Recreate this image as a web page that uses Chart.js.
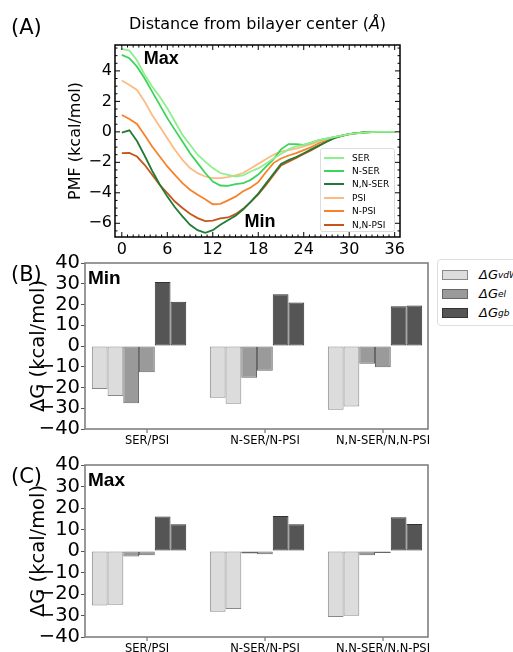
<!DOCTYPE html>
<html><head><meta charset="utf-8">
<script src="https://cdn.jsdelivr.net/npm/chart.js@4.4.1/dist/chart.umd.min.js"></script>
<style>
html,body{margin:0;padding:0;background:#fff;}
body{width:513px;height:652px;position:relative;overflow:hidden;font-family:"DejaVu Sans",sans-serif;color:#000;}
canvas{position:absolute;left:0;}
.plab{position:absolute;font-family:"DejaVu Sans",sans-serif;font-size:21px;line-height:1;}
#titleA{position:absolute;left:115px;width:285px;top:16px;text-align:center;font-size:16px;line-height:1;}
#legA{position:absolute;left:320px;top:148px;width:75px;height:84px;box-sizing:border-box;border:1px solid #ddd;border-radius:3px;background:rgba(255,255,255,0.85);padding-top:2px;}
#legA .row{height:13.4px;display:flex;align-items:center;font-size:9px;}
#legA .sw{width:20px;height:0;border-top:2px solid;margin:0 8px 0 3px;}
#legB{position:absolute;left:437px;top:259px;width:100px;height:67px;box-sizing:border-box;border:1px solid #ddd;border-radius:4px;background:#fff;padding-top:5px;}
#legB .row{height:19px;display:flex;align-items:center;font-size:13px;font-style:italic;}
#legB .sw{width:24px;height:8px;border:1px solid;margin:0 11px 0 4px;}
#legB sub{font-size:9px;}
</style></head>
<body>
<canvas id="cA" width="513" height="258" style="top:0"></canvas>
<canvas id="cB" width="513" height="200" style="top:250px"></canvas>
<canvas id="cC" width="513" height="200" style="top:452px"></canvas>
<div class="plab" style="left:11px;top:17px">(A)</div>
<div class="plab" style="left:11px;top:264px">(B)</div>
<div class="plab" style="left:11px;top:466px">(C)</div>
<div id="titleA">Distance from bilayer center (<i>Å</i>)</div>
<div id="legA"></div>
<div id="legB"></div>
<script>
// ---------- Panel A data: PMF (kcal/mol) vs distance (Å) ----------
const distance = [0,1,2,3,4,5,6,7,8,9,10,11,12,13,14,15,16,17,18,19,20,21,22,23,24,25,26,27,28,29,30,31,32,33,34,35,36];
const pmfSER   = [5.44,5.33,4.70,3.75,2.97,2.30,1.55,0.68,-0.20,-0.85,-1.50,-1.95,-2.38,-2.70,-2.82,-2.93,-2.85,-2.60,-2.40,-2.10,-1.75,-1.45,-1.15,-0.95,-0.85,-0.70,-0.55,-0.45,-0.35,-0.25,-0.15,-0.10,-0.05,-0.02,0,0,0];
const pmfNSER  = [5.05,4.83,4.28,3.52,2.64,1.77,0.90,0.13,-0.63,-1.40,-2.05,-2.70,-3.26,-3.52,-3.54,-3.43,-3.37,-3.15,-2.80,-2.30,-1.80,-1.15,-0.80,-0.80,-0.85,-0.70,-0.55,-0.45,-0.35,-0.25,-0.15,-0.08,-0.03,0,0,0,0];
const pmfNNSER = [-0.05,0.10,-0.60,-1.55,-2.55,-3.45,-4.25,-4.95,-5.55,-6.10,-6.45,-6.62,-6.45,-6.10,-5.80,-5.50,-5.10,-4.60,-4.05,-3.40,-2.75,-2.10,-1.85,-1.65,-1.40,-1.15,-0.90,-0.65,-0.42,-0.27,-0.15,-0.08,-0.04,-0.01,0,0,0];
const pmfPSI   = [3.37,3.08,2.75,2.00,1.11,0.35,-0.42,-1.18,-1.84,-2.38,-2.71,-2.93,-3.04,-3.04,-2.97,-2.85,-2.70,-2.40,-2.10,-1.80,-1.50,-1.30,-1.20,-1.10,-0.95,-0.80,-0.62,-0.48,-0.35,-0.25,-0.16,-0.10,-0.05,-0.02,0,0,0];
const pmfNPSI  = [1.11,0.85,0.52,-0.20,-0.96,-1.62,-2.27,-2.82,-3.37,-3.80,-4.13,-4.42,-4.75,-4.72,-4.50,-4.25,-3.90,-3.65,-3.30,-2.65,-2.05,-1.75,-1.55,-1.40,-1.20,-1.00,-0.75,-0.55,-0.37,-0.25,-0.15,-0.08,-0.04,-0.01,0,0,0];
const pmfNNPSI = [-1.40,-1.38,-1.62,-2.16,-2.82,-3.48,-4.02,-4.57,-5.00,-5.38,-5.66,-5.86,-5.82,-5.68,-5.62,-5.40,-5.05,-4.60,-4.10,-3.50,-2.85,-2.20,-1.95,-1.72,-1.45,-1.20,-0.92,-0.65,-0.42,-0.27,-0.15,-0.08,-0.03,-0.01,0,0,0];
const seriesNames  = ['SER','N-SER','N,N-SER','PSI','N-PSI','N,N-PSI'];
const seriesValues = [pmfSER,pmfNSER,pmfNNSER,pmfPSI,pmfNPSI,pmfNNPSI];
const seriesColors = ['#8eef8e','#3ed35c','#217a36','#fdbb84','#f8822a','#c5561b'];

// ---------- Panels B/C data: ΔG components (kcal/mol) ----------
const groups = ['SER/PSI','N-SER/N-PSI','N,N-SER/N,N-PSI'];
const minVdwSer = [-20.7,-24.9,-30.7];
const minVdwPsi = [-24.1,-27.8,-29.2];
const minElSer  = [-27.6,-15.3,-8.6];
const minElPsi  = [-12.7,-11.9,-10.2];
const minGbSer  = [30.9,24.9,19.2];
const minGbPsi  = [21.3,21.0,19.5];
const maxVdwSer = [-25.3,-28.3,-30.7];
const maxVdwPsi = [-25.0,-27.0,-30.1];
const maxElSer  = [-2.5,-1.2,-2.0];
const maxElPsi  = [-2.0,-1.5,-0.9];
const maxGbSer  = [16.0,16.3,15.7];
const maxGbPsi  = [12.4,12.4,12.6];
const termNames  = ['vdW','el','gb'];
const termFill   = ['#dcdcdc','#9a9a9a','#555555'];
const termEdge   = ['#888888','#666666','#333333'];

const minus = v => (v < 0 ? '\u2212' + Math.abs(v) : String(v));

// ---------- Panel A ----------
const axesA = {
  id:'axesA',
  afterDraw(chart){
    const {ctx, chartArea:{left,right,top,bottom}, scales:{x,y}} = chart;
    ctx.save();
    ctx.strokeStyle = '#000'; ctx.lineWidth = 1;
    const seg = (a,b,c,d)=>{ctx.beginPath();ctx.moveTo(a,b);ctx.lineTo(c,d);ctx.stroke();};
    for (let v = 0; v <= x.max; v += 0.75) {
      const px = x.getPixelForValue(v);
      const major = Math.abs(v/6 - Math.round(v/6)) < 1e-6;
      const L = major ? 5 : 2.5;
      seg(px,bottom,px,bottom-L); seg(px,top,px,top+L);
    }
    for (let v = -6.5; v <= y.max; v += 0.5) {
      const py = y.getPixelForValue(v);
      const major = Math.abs(v/2 - Math.round(v/2)) < 1e-6;
      const L = major ? 5 : 2.5;
      seg(left,py,left+L,py); seg(right,py,right-L,py);
    }
    ctx.lineWidth = 1.5;
    ctx.strokeRect(left,top,right-left,bottom-top);
    ctx.fillStyle = '#000';
    ctx.font = 'bold 18px "Liberation Sans", Arial, sans-serif';
    ctx.textBaseline = 'middle'; ctx.textAlign = 'left';
    ctx.fillText('Max', x.getPixelForValue(2.9), y.getPixelForValue(4.8));
    ctx.fillText('Min', x.getPixelForValue(16.2), y.getPixelForValue(-5.9));
    ctx.restore();
  }
};

const chartA = new Chart(document.getElementById('cA'), {
  type:'line',
  data:{
    labels: distance,
    datasets: seriesNames.map((n,i)=>({label:n, data:seriesValues[i], borderColor:seriesColors[i], backgroundColor:seriesColors[i], borderWidth:1.8, pointRadius:0, tension:0, fill:false}))
  },
  options:{
    responsive:false, animation:false,
    layout:{padding:{left:62,right:113,top:45,bottom:0}},
    plugins:{legend:{display:false}, tooltip:{enabled:false}},
    scales:{
      x:{type:'linear', min:-0.9, max:36.7, offset:false, afterFit:s=>{s.height=21;},
         grid:{display:false, drawTicks:false}, border:{display:false},
         ticks:{stepSize:6, includeBounds:false, autoSkip:false, padding:3, color:'#000', font:{family:'DejaVu Sans', size:16}}},
      y:{type:'linear', min:-6.9, max:5.7, afterFit:s=>{s.width=53;},
         grid:{display:false, drawTicks:false}, border:{display:false},
         ticks:{stepSize:2, includeBounds:false, autoSkip:false, padding:3, color:'#000', font:{family:'DejaVu Sans', size:16}, callback:minus},
         title:{display:true, text:'PMF (kcal/mol)', color:'#000', font:{family:'DejaVu Sans', size:16}, padding:{top:4,bottom:0}}}
    }
  },
  plugins:[axesA]
});

// legend A (HTML, from chart datasets)
document.getElementById('legA').innerHTML = chartA.data.datasets.map(d =>
  `<div class="row"><span class="sw" style="border-color:${d.borderColor}"></span>${d.label}</div>`).join('');

// ---------- Panels B & C ----------
function framePlugin(tag){
  return {
    id:'frame'+tag,
    afterDraw(chart){
      const {ctx, chartArea:{left,right,top,bottom}, scales:{x}} = chart;
      ctx.save();
      ctx.strokeStyle = '#555'; ctx.lineWidth = 1;
      for (let i = 0; i < groups.length; i++) {
        const px = x.getPixelForValue(i) + 8;
        ctx.beginPath(); ctx.moveTo(px,bottom); ctx.lineTo(px,bottom+4); ctx.stroke();
      }
      ctx.strokeStyle = '#808080'; ctx.lineWidth = 1.6;
      ctx.strokeRect(left,top,right-left,bottom-top);
      ctx.fillStyle = '#000';
      ctx.font = 'bold 19px "Liberation Sans", Arial, sans-serif';
      ctx.textBaseline = 'top'; ctx.textAlign = 'left';
      ctx.fillText(tag, left+3, top+6);
      ctx.restore();
    }
  };
}

function barChart(id, tag, sets, xAxisHeight){
  const ds = [];
  sets.forEach((pair,t)=>{
    pair.forEach(arr=>{
      ds.push({label:termNames[t], data:arr, backgroundColor:termFill[t], borderColor:termEdge[t], borderWidth:1, borderSkipped:false});
    });
  });
  return new Chart(document.getElementById(id), {
    type:'bar',
    data:{labels:[0,1,2], datasets:ds},
    options:{
      responsive:false, animation:false,
      categoryPercentage:0.8, barPercentage:1.0,
      layout:{padding:{left:23,right:85,top:13,bottom:0}},
      plugins:{legend:{display:false}, tooltip:{enabled:false}},
      scales:{
        x:{type:'linear', min:-0.458, max:2.449, offset:false, afterFit:s=>{s.height=xAxisHeight;},
           grid:{display:false, drawTicks:false, offset:false}, border:{display:false},
           ticks:{stepSize:1, includeBounds:false, autoSkip:false, maxRotation:0, labelOffset:8, padding:5, color:'#000',
                  font:{family:'DejaVu Sans', size:11.5}, callback:v=>groups[v] ?? ''}},
        y:{min:-40, max:40, afterFit:s=>{s.width=62;},
           grid:{drawOnChartArea:false, drawTicks:true, tickLength:4, color:'#555'}, border:{display:false},
           ticks:{stepSize:10, autoSkip:false, padding:1, color:'#000', font:{family:'DejaVu Sans', size:19.5}, callback:minus},
           title:{display:true, text:'ΔG (kcal/mol)', color:'#000', font:{family:'DejaVu Sans', size:19.5}, padding:{top:4,bottom:0}}}
      }
    },
    plugins:[framePlugin(tag)]
  });
}

barChart('cB','Min',[[minVdwSer,minVdwPsi],[minElSer,minElPsi],[minGbSer,minGbPsi]],21);
barChart('cC','Max',[[maxVdwSer,maxVdwPsi],[maxElSer,maxElPsi],[maxGbSer,maxGbPsi]],15);

// legend B (HTML)
document.getElementById('legB').innerHTML = termNames.map((n,t)=>
  `<div class="row"><span class="sw" style="background:${termFill[t]};border-color:${termEdge[t]}"></span>ΔG<sub>${n}</sub></div>`).join('');
</script>
</body></html>
